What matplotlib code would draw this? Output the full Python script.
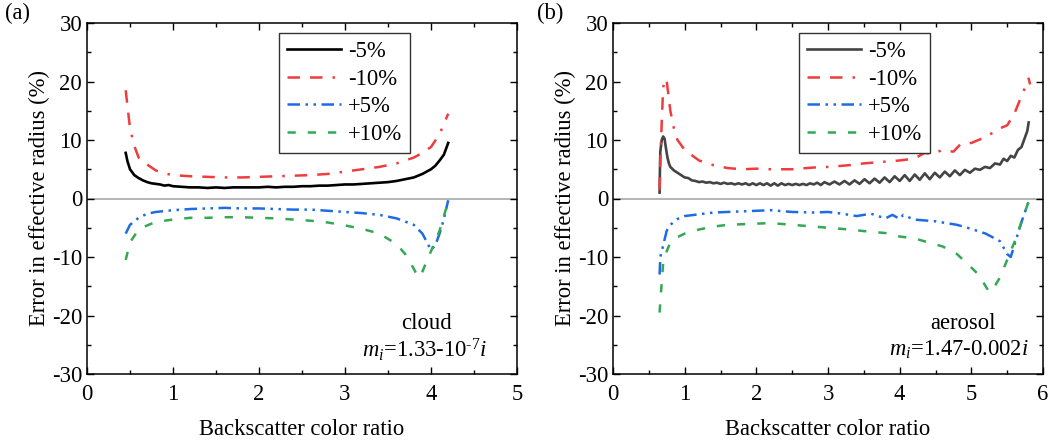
import numpy as np
import matplotlib
matplotlib.use('Agg')
import matplotlib.pyplot as plt

plt.rcParams['font.family'] = ['Liberation Serif', 'DejaVu Serif']
plt.rcParams['mathtext.fontset'] = 'custom'
plt.rcParams['mathtext.rm'] = 'Liberation Serif'
plt.rcParams['mathtext.it'] = 'Liberation Serif:italic'
plt.rcParams['axes.unicode_minus'] = False

# ---- (a) cloud ----
a_m5_x = [0.45, 0.47, 0.5, 0.55, 0.6, 0.65, 0.7, 0.75, 0.8, 0.85, 0.9, 0.95, 1.0, 1.1, 1.2, 1.3,
          1.4, 1.5, 1.6, 1.7, 1.8, 1.9, 2.0, 2.1, 2.2, 2.3, 2.4, 2.5, 2.6, 2.7, 2.8, 2.9,
          3.0, 3.1, 3.2, 3.3, 3.4, 3.5, 3.6, 3.7, 3.8, 3.9, 4.0, 4.05, 4.1, 4.15, 4.2]
a_m5_y = [7.8, 6.4, 5.0, 4.0, 3.5, 3.1, 2.8, 2.6, 2.5, 2.4, 2.2, 2.3, 2.1, 2.0, 1.9, 1.9,
          1.8, 1.9, 1.8, 1.9, 1.9, 1.9, 1.9, 2.0, 1.9, 2.0, 2.0, 2.1, 2.1, 2.2, 2.2, 2.3,
          2.4, 2.4, 2.5, 2.6, 2.7, 2.8, 3.0, 3.3, 3.6, 4.2, 5.0, 5.6, 6.5, 7.5, 9.5]

a_m10_x = [0.45, 0.5, 0.55, 0.6, 0.7, 0.8, 0.9, 1.0, 1.2, 1.4, 1.6, 1.8, 2.0, 2.2, 2.4, 2.6,
           2.8, 3.0, 3.2, 3.4, 3.6, 3.8, 3.9, 4.0, 4.1, 4.2]
a_m10_y = [18.5, 12.0, 9.0, 7.0, 5.8, 4.8, 4.3, 4.0, 3.8, 3.7, 3.6, 3.6, 3.7, 3.8, 3.9, 4.0,
           4.2, 4.6, 5.0, 5.4, 6.0, 7.0, 7.8, 8.8, 11.0, 14.5]

a_p5_x = [0.45, 0.5, 0.6, 0.7, 0.8, 1.0, 1.2, 1.4, 1.6, 1.8, 2.0, 2.2, 2.4, 2.6, 2.8, 3.0,
          3.2, 3.4, 3.6, 3.8, 3.9, 4.0, 4.05, 4.1, 4.15, 4.2]
a_p5_y = [-6.0, -4.5, -3.3, -2.6, -2.3, -2.0, -1.8, -1.7, -1.6, -1.7, -1.7, -1.8, -1.9, -1.9, -2.1, -2.3,
          -2.5, -2.8, -3.4, -4.5, -6.0, -8.8, -8.0, -6.0, -3.5, -0.3]

a_p10_x = [0.45, 0.5, 0.6, 0.7, 0.8, 1.0, 1.2, 1.4, 1.6, 1.8, 2.0, 2.2, 2.4, 2.6, 2.8, 3.0,
           3.2, 3.4, 3.6, 3.7, 3.8, 3.85, 3.9, 4.0, 4.1, 4.2]
a_p10_y = [-10.5, -7.5, -5.3, -4.6, -4.0, -3.6, -3.3, -3.3, -3.2, -3.2, -3.3, -3.4, -3.6, -3.8, -4.1, -4.6,
           -5.2, -6.0, -7.8, -9.5, -12.0, -13.5, -12.5, -9.0, -5.5, -0.5]

# ---- (b) aerosol ----
b_m5_x = [0.65, 0.655, 0.66, 0.68, 0.70, 0.72, 0.74, 0.76, 0.78, 0.8, 0.85, 0.9, 0.95,
          1.0, 1.05, 1.1, 1.15, 1.2, 1.25, 1.3, 1.35, 1.4, 1.45, 1.5, 1.55, 1.6, 1.65, 1.7, 1.75,
          1.8, 1.85, 1.9, 1.95, 2.0, 2.05, 2.1, 2.15, 2.2, 2.25, 2.3, 2.35, 2.4, 2.45, 2.5, 2.55,
          2.6, 2.65, 2.7, 2.75, 2.8, 2.85, 2.9, 2.95,
          3.02, 3.09, 3.16, 3.23, 3.30, 3.37, 3.44, 3.51, 3.58, 3.65, 3.72, 3.79, 3.86, 3.93,
          4.00, 4.07, 4.14, 4.21, 4.28, 4.35, 4.42, 4.49, 4.56, 4.63, 4.70, 4.77, 4.84, 4.91,
          4.98, 5.05, 5.12, 5.19, 5.26, 5.33, 5.40, 5.45, 5.50, 5.55, 5.60, 5.65, 5.70, 5.75,
          5.78, 5.8]
b_m5_y = [1.0, 5.0, 8.0, 10.0, 10.6, 10.2, 8.5, 7.0, 6.0, 5.4, 4.8, 4.4, 4.0,
          3.6, 3.5, 3.1, 3.0, 2.8, 2.9, 2.7, 2.8, 2.6, 2.7, 2.5, 2.7, 2.5, 2.6, 2.4, 2.6,
          2.4, 2.6, 2.3, 2.6, 2.3, 2.6, 2.3, 2.6, 2.2, 2.6, 2.2, 2.6, 2.3, 2.5, 2.3, 2.5,
          2.3, 2.5, 2.3, 2.6, 2.4, 2.7, 2.3, 2.8,
          2.4, 2.9, 2.4, 3.0, 2.4, 3.1, 2.5, 3.3, 2.6, 3.4, 2.7, 3.6, 2.8, 3.8,
          3.0, 4.0, 3.0, 4.1, 3.2, 4.3, 3.3, 4.4, 3.6, 4.6, 3.8, 4.8, 4.0, 4.9,
          4.4, 5.1, 4.9, 5.4, 5.2, 6.0, 5.8, 6.8, 6.4, 7.3, 7.0, 8.3, 8.8, 10.5,
          11.5, 13.0]

b_m10_x = [0.65, 0.67, 0.7, 0.73, 0.75, 0.8, 0.85, 0.9, 1.0, 1.2, 1.4, 1.6, 1.8, 2.0, 2.2, 2.5,
           2.8, 3.0, 3.3, 3.5, 3.8, 4.0, 4.2, 4.35, 4.45, 4.6, 4.75, 4.85, 5.0, 5.2, 5.4, 5.5,
           5.6, 5.7, 5.8, 5.82]
b_m10_y = [1.5, 10.0, 19.0, 20.5, 20.0, 15.0, 12.0, 10.0, 8.3, 6.5, 5.7, 5.2, 5.0, 5.1, 5.0, 5.0,
           5.3, 5.4, 5.7, 6.0, 6.3, 6.5, 6.8, 7.8, 7.6, 8.3, 8.0, 9.3, 9.5, 10.5, 12.0, 12.5,
           14.5, 17.5, 20.5, 19.5]

b_p5_x = [0.65, 0.66, 0.7, 0.75, 0.8, 0.9, 1.0, 1.2, 1.4, 1.6, 1.8, 2.0, 2.2, 2.5, 2.8, 3.0,
          3.2, 3.4, 3.6, 3.8, 3.9, 4.0, 4.05, 4.2, 4.5, 4.8, 5.0, 5.2, 5.4, 5.5, 5.55, 5.6,
          5.7, 5.8]
b_p5_y = [-13.0, -10.0, -8.0, -5.5, -4.5, -3.5, -3.0, -2.7, -2.4, -2.3, -2.2, -2.1, -2.0, -2.3, -2.4, -2.3,
          -2.6, -3.0, -2.6, -3.4, -2.8, -3.5, -2.8, -3.6, -3.9, -4.5, -5.2, -6.0, -7.3, -9.5, -10.0, -8.0,
          -4.0, -0.5]

b_p10_x = [0.65, 0.67, 0.7, 0.75, 0.8, 0.9, 1.0, 1.2, 1.4, 1.6, 1.8, 2.0, 2.2, 2.5, 2.8, 3.0,
           3.3, 3.6, 3.8, 4.0, 4.2, 4.4, 4.6, 4.8, 5.0, 5.1, 5.2, 5.25, 5.3, 5.4, 5.5, 5.6,
           5.7, 5.8]
b_p10_y = [-19.5, -16.0, -11.0, -9.0, -7.5, -6.6, -6.0, -5.3, -4.8, -4.5, -4.4, -4.3, -4.2, -4.5, -4.8, -5.0,
           -5.3, -5.7, -5.9, -6.5, -6.8, -7.5, -8.2, -9.5, -11.8, -13.0, -15.0, -16.0, -15.5, -13.5, -10.5, -7.5,
           -4.0, -0.5]

labels = ['-5%', '-10%', '+5%', '+10%']
red = '#f03c3c'
blue = '#1e6be6'
green = '#34a853'
ls_red = (0, (5, 4, 5, 4, 1, 4))
ls_blue = (0, (5, 2.2, 1, 2.2, 1, 2.2))
ls_green = (0, (3.3, 4.8))

fs = 16.3
fig = plt.figure(figsize=(10.56, 4.41), dpi=100)
ax_a = fig.add_axes([87 / 1056, 67 / 441, 430 / 1056, 351 / 441])
ax_b = fig.add_axes([613 / 1056, 67 / 441, 430 / 1056, 351 / 441])

panels = [
    (ax_a, 'black', (a_m5_x, a_m5_y), (a_m10_x, a_m10_y), (a_p5_x, a_p5_y), (a_p10_x, a_p10_y), 5, 0.447),
    (ax_b, '#444444', (b_m5_x, b_m5_y), (b_m10_x, b_m10_y), (b_p5_x, b_p5_y), (b_p10_x, b_p10_y), 6, 0.433),
]

for ax, kcol, m5, m10, p5, p10, xmax, legx in panels:
    ax.axhline(0, color='#a8a8a8', lw=1.2, zorder=1)
    ax.plot(*m5, color=kcol, lw=1.9, label=labels[0])
    ax.plot(*m10, color=red, lw=1.8, linestyle=ls_red, label=labels[1])
    ax.plot(*p5, color=blue, lw=1.8, linestyle=ls_blue, label=labels[2])
    ax.plot(*p10, color=green, lw=1.8, linestyle=ls_green, label=labels[3])
    ax.set_xlim(0, xmax)
    ax.set_ylim(-30, 30)
    ax.set_xticks(np.arange(0, xmax + 1))
    ax.set_xticks(np.arange(0.5, xmax, 1), minor=True)
    ax.set_yticks(np.arange(-30, 31, 10))
    ax.set_yticks(np.arange(-25, 30, 10), minor=True)
    ax.tick_params(which='both', direction='in', top=True, right=True, labelsize=fs)
    ax.tick_params(which='major', length=5, width=1)
    ax.tick_params(which='minor', length=3, width=1)
    ax.tick_params(axis='x', pad=7)
    for s in ax.spines.values():
        s.set_linewidth(1.1)
    ax.set_xlabel('Backscatter color ratio', fontsize=fs, labelpad=10)
    ax.set_ylabel('Error in effective radius (%)', fontsize=fs, labelpad=1)
    leg = ax.legend(loc='upper left', bbox_to_anchor=(legx, 0.972), borderaxespad=0,
                    fontsize=fs, fancybox=False, framealpha=1, edgecolor='#333333',
                    handlelength=2.4, handletextpad=0.3, labelspacing=0.3,
                    borderpad=0.35)
    leg.get_frame().set_linewidth(1.0)

ax_a.text(3.95, -21.4, 'cloud', fontsize=fs, ha='center', va='center')
ax_a.text(3.93, -25.8, '$m_i$=1.33-10$^{\\text{-7}}$$i$', fontsize=fs, ha='center', va='center')
ax_b.text(4.88, -21.4, 'aerosol', fontsize=fs, ha='center', va='center')
ax_b.text(4.83, -25.8, '$m_i$=1.47-0.002$i$', fontsize=fs, ha='center', va='center')

fig.text(5 / 1056, 1 - 3 / 441, '(a)', fontsize=fs, ha='left', va='top')
fig.text(537 / 1056, 1 - 3 / 441, '(b)', fontsize=fs, ha='left', va='top')

fig.savefig('out.png', dpi=100)
